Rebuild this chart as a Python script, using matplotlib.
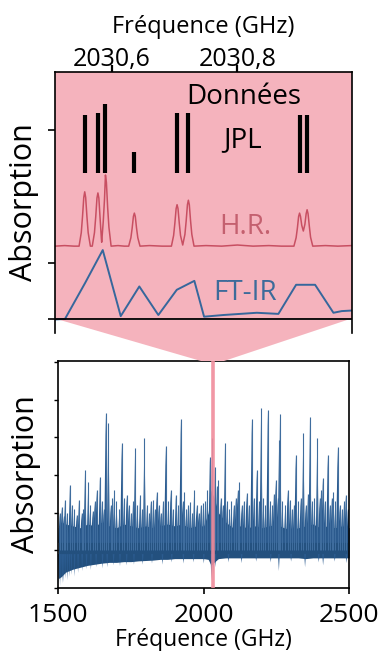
import matplotlib
matplotlib.use('Agg')
import matplotlib.pyplot as plt
from matplotlib.patches import Polygon

plt.rcParams['font.family'] = ['Open Sans', 'DejaVu Sans']

# ---- zoomed panel (top) ----
jpl_freq = [2030.557, 2030.578, 2030.590, 2030.636, 2030.704, 2030.722, 2030.899, 2030.911]
jpl_top = [3.65, 3.68, 3.84, 3.00, 3.68, 3.68, 3.66, 3.65]
jpl_bottom = 2.62

# high resolution spectrum, read point by point
hr_freq = [2030.5097, 2030.525, 2030.540,
           2030.548, 2030.5515, 2030.5535, 2030.5555, 2030.557, 2030.5585, 2030.5605, 2030.5625, 2030.566,
           2030.569, 2030.5725, 2030.5745, 2030.5765, 2030.578, 2030.5795, 2030.5815, 2030.5835,
           2030.584, 2030.5865, 2030.5885, 2030.590, 2030.5915, 2030.5935, 2030.5955, 2030.599,
           2030.610, 2030.620,
           2030.627, 2030.6305, 2030.6325, 2030.6345, 2030.636, 2030.6375, 2030.6395, 2030.6415, 2030.645,
           2030.660, 2030.680,
           2030.695, 2030.6985, 2030.7005, 2030.7025, 2030.704, 2030.7055, 2030.7075, 2030.7095, 2030.713,
           2030.7165, 2030.7185, 2030.7205, 2030.722, 2030.7235, 2030.7255, 2030.7275, 2030.731,
           2030.750, 2030.775, 2030.800, 2030.825, 2030.850, 2030.870,
           2030.890, 2030.8935, 2030.8955, 2030.8975, 2030.899, 2030.9005, 2030.9025, 2030.905,
           2030.9075, 2030.9095, 2030.911, 2030.9125, 2030.9145, 2030.9165, 2030.920,
           2030.940, 2030.960, 2030.982]
hr_abs = [1.31, 1.32, 1.31,
          1.31, 1.55, 1.84, 2.18, 2.28, 2.18, 1.84, 1.55, 1.31,
          1.31, 1.55, 1.83, 2.17, 2.26, 2.17, 1.80, 1.45,
          1.38, 1.75, 2.15, 2.58, 2.45, 2.00, 1.65, 1.31,
          1.32, 1.31,
          1.31, 1.46, 1.63, 1.84, 1.90, 1.84, 1.63, 1.46, 1.31,
          1.32, 1.31,
          1.31, 1.50, 1.72, 1.98, 2.05, 1.98, 1.72, 1.50, 1.33,
          1.52, 1.76, 2.05, 2.13, 2.05, 1.76, 1.52, 1.31,
          1.32, 1.31, 1.33, 1.31, 1.32, 1.31,
          1.31, 1.46, 1.63, 1.84, 1.90, 1.84, 1.68, 1.58,
          1.70, 1.89, 1.96, 1.89, 1.67, 1.47, 1.31,
          1.32, 1.31, 1.32]

ftir_freq = [2030.5097, 2030.5256, 2030.5575, 2030.5857, 2030.6143, 2030.6439, 2030.6742,
             2030.7035, 2030.7315, 2030.7470, 2030.7777, 2030.8309, 2030.8653, 2030.8935,
             2030.9237, 2030.9529, 2030.9662, 2030.982]
ftir_abs = [0.0, 0.01, 0.65, 1.24, 0.06, 0.59, 0.08, 0.53, 0.69, 0.05, 0.08, 0.12, 0.10,
            0.62, 0.62, 0.12, 0.15, 0.16]

top_ticks = [2030.6, 2030.8]
top_ticklabels = ['2030,6', '2030,8']

# ---- full spectrum (bottom) ----
env_freq = [1500, 1510, 1525, 1550, 1575, 1600, 1625, 1650, 1675, 1700, 1725, 1750, 1775,
            1800, 1825, 1850, 1875, 1900, 1925, 1950, 1975, 2000, 2015, 2025, 2035, 2050,
            2075, 2100, 2125, 2150, 2175, 2200, 2225, 2250, 2275, 2300, 2325, 2350, 2375,
            2400, 2425, 2450, 2475, 2500]
env_low = [0.25, 0.30, 0.42, 0.50, 0.55, 0.60, 0.63, 0.66, 0.68, 0.68, 0.70, 0.70, 0.72,
           0.73, 0.74, 0.76, 0.76, 0.78, 0.78, 0.78, 0.78, 0.78, 0.76, 0.60, 0.68, 0.78,
           0.80, 0.80, 0.80, 0.80, 0.80, 0.80, 0.80, 0.80, 0.80, 0.80, 0.80, 0.78, 0.80,
           0.80, 0.80, 0.80, 0.80, 0.80]
env_up = [1.60, 1.75, 1.70, 1.65, 1.60, 1.70, 1.65, 1.75, 1.65, 1.60, 1.70, 1.65, 1.60,
          1.65, 1.60, 1.65, 1.70, 1.65, 1.70, 1.60, 1.65, 1.65, 2.00, 2.60, 2.40, 2.00,
          1.75, 1.60, 1.65, 1.60, 1.65, 1.60, 1.65, 1.70, 1.60, 1.55, 1.60, 1.65, 1.70,
          1.60, 1.65, 1.60, 1.65, 1.60]

line_freq = [1505, 1512, 1518, 1523, 1530, 1540, 1547, 1555, 1563, 1571, 1580, 1586, 1592,
             1603, 1610, 1618, 1625, 1632, 1643, 1650, 1656, 1663, 1672, 1680, 1686, 1692,
             1700, 1710, 1718, 1726, 1735, 1742, 1750, 1757, 1764, 1772, 1781, 1788, 1796,
             1805, 1812, 1818, 1826, 1832, 1838, 1845, 1852, 1860, 1869, 1878, 1886, 1894,
             1904, 1912, 1921, 1927, 1933, 1940, 1946, 1953, 1960, 1967, 1975, 1982, 1990,
             1998, 2005, 2012, 2021, 2029, 2038, 2045, 2050, 2058, 2065, 2073, 2080, 2088,
             2095, 2103, 2110, 2116, 2122, 2130, 2138, 2147, 2155, 2165, 2172, 2182, 2190,
             2197, 2205, 2212, 2220, 2228, 2235, 2241, 2247, 2254, 2259, 2262, 2270, 2280,
             2288, 2296, 2303, 2310, 2316, 2325, 2333, 2342, 2350, 2358, 2365, 2372, 2380,
             2390, 2398, 2403, 2409, 2416, 2426, 2433, 2440, 2445, 2452, 2460, 2467, 2475,
             2482, 2488, 2495]
line_abs = [2.00, 2.15, 1.90, 2.33, 2.00, 2.73, 2.20, 2.10, 1.95, 2.33, 2.00, 2.10, 3.13,
            2.81, 2.20, 2.05, 2.30, 2.60, 2.94, 2.30, 2.10, 4.64, 4.38, 2.20, 2.40, 2.60,
            2.30, 2.10, 3.85, 2.40, 2.47, 2.20, 2.00, 2.30, 3.71, 2.20, 2.47, 2.10, 3.98,
            2.20, 2.00, 2.30, 2.33, 2.10, 2.55, 2.20, 2.00, 2.30, 3.77, 2.30, 2.60, 2.10,
            2.47, 2.20, 4.48, 2.30, 2.55, 2.10, 2.20, 2.28, 2.00, 2.60, 2.20, 2.00, 2.20,
            2.25, 2.30, 2.60, 3.47, 3.98, 3.21, 2.70, 2.86, 2.40, 2.20, 3.85, 2.30, 2.10,
            2.30, 2.20, 2.40, 2.60, 2.81, 2.20, 2.30, 2.52, 2.20, 4.48, 2.40, 3.13, 2.30,
            4.77, 2.40, 2.20, 4.72, 2.30, 2.20, 2.50, 2.86, 2.40, 3.93, 4.62, 2.30, 2.20,
            2.60, 2.33, 2.10, 2.20, 3.53, 2.30, 2.40, 4.11, 2.20, 2.50, 4.54, 2.30, 2.40,
            3.98, 2.40, 2.60, 2.91, 2.30, 3.53, 2.20, 2.40, 2.55, 2.30, 3.74, 2.20, 2.10,
            2.30, 2.47, 2.10]
line_base = 1.0

dip_freq = [1502, 1506, 1509, 1514, 1519, 1524, 1531, 1538, 1545, 1556, 1568, 1582, 1597,
            1612, 1630, 1652, 1668, 1690, 1712, 1735, 1760, 1790, 1822, 1858, 1890, 1930,
            1965, 2000, 2026, 2032, 2040, 2085, 2130, 2180, 2230, 2258, 2300, 2348, 2395,
            2410, 2450, 2490]
dip_abs = [0.10, 0.05, 0.20, 0.12, 0.15, 0.25, 0.20, 0.30, 0.35, 0.30, 0.40, 0.45, 0.50,
           0.48, 0.55, 0.52, 0.55, 0.60, 0.58, 0.60, 0.62, 0.62, 0.65, 0.62, 0.68, 0.65,
           0.68, 0.65, 0.20, 0.35, 0.55, 0.68, 0.66, 0.70, 0.68, 0.45, 0.70, 0.55, 0.68,
           0.60, 0.70, 0.66]

bottom_ticks = [1500, 2000, 2500]
zoom_freq = 2030.7

pink = '#f5b3bd'
pink_line = '#f08c9b'
blue_dark = '#23507e'
blue = '#2b5b8f'

fig = plt.figure(figsize=(3.82, 6.51), dpi=100)

# top panel
ax1 = fig.add_axes([0.144, 0.4885, 0.7767, 0.4009])
ax1.patch.set_visible(False)
ax1.set_xlim(2030.5097, 2030.982)
ax1.set_ylim(-0.241, 4.42)
ax1.axhspan(0, 4.42, color=pink, lw=0, zorder=0)
ax1.axhline(0, color='black', lw=1.3, zorder=3)
ax1.vlines(jpl_freq, jpl_bottom, jpl_top, color='black', lw=3.0)
ax1.plot(hr_freq, hr_abs, color='#c84f62', lw=1.1)
ax1.plot(ftir_freq, ftir_abs, color='#36679c', lw=1.4)

ax1.text(2030.8107, 3.97, 'Données', fontsize=20, ha='center', va='center')
ax1.text(2030.8075, 3.21, 'JPL', fontsize=20, ha='center', va='center')
ax1.text(2030.8123, 1.65, 'H.R.', fontsize=20, color='#c4606f', ha='center', va='center')
ax1.text(2030.8123, 0.47, 'FT-IR', fontsize=20, color='#3d6b9a', ha='center', va='center')

ax1.spines['bottom'].set_visible(False)
ax1.xaxis.tick_top()
ax1.xaxis.set_label_position('top')
ax1.set_xticks(top_ticks)
ax1.set_xticklabels(top_ticklabels)
ax1.tick_params(axis='x', top=True, bottom=False, direction='out', length=5, width=1.6,
                labelsize=18, pad=-5)
ax1.set_xlabel('Fréquence (GHz)', fontsize=17, labelpad=10)
ax1.set_yticks([0, 1.0, 3.38])
ax1.set_yticklabels([])
ax1.tick_params(axis='y', direction='out', length=5, width=1.2)
ax1.set_ylabel('Absorption', fontsize=22, labelpad=3)
for s in ['left', 'right', 'top']:
    ax1.spines[s].set_linewidth(1.2)

# bottom panel
ax2 = fig.add_axes([0.1526, 0.0968, 0.7618, 0.3487])
ax2.set_xlim(1500, 2500)
ax2.set_ylim(0, 6.03)
ax2.fill_between(env_freq, env_low, env_up, color=blue_dark, lw=0, zorder=2)
for f, a in zip(line_freq, line_abs):
    ax2.fill([f - 5.5, f, f + 5.5], [line_base + 0.2, a, line_base + 0.2],
             color=blue, lw=0, zorder=2)
for f, a in zip(dip_freq, dip_abs):
    ax2.fill([f - 3, f, f + 3], [line_base - 0.1, a, line_base - 0.1],
             color=blue, lw=0, zorder=2)
ax2.vlines(line_freq, line_base, line_abs, color='#3f6d9e', lw=0.8, zorder=2)
ax2.axvline(zoom_freq, color=pink_line, lw=2.6, alpha=0.9, zorder=3)
ax2.set_xticks(bottom_ticks)
ax2.tick_params(axis='x', direction='out', length=4, width=1.2, labelsize=19, pad=7)
ax2.set_yticks(range(7))
ax2.set_yticklabels([])
ax2.tick_params(axis='y', direction='out', length=3, width=1.0)
ax2.set_xlabel('Fréquence (GHz)', fontsize=16.5, labelpad=0)
ax2.set_ylabel('Absorption', fontsize=22, labelpad=6)
for s in ax2.spines.values():
    s.set_linewidth(1.2)

# pink zoom trapezoid between the panels
W, H = 382.0, 651.0
trap = [(60 / W, 1 - 320 / H), (347 / W, 1 - 320 / H),
        (224 / W, 1 - 361 / H), (201 / W, 1 - 361 / H)]
fig.patches.append(Polygon(trap, closed=True, transform=fig.transFigure,
                           facecolor=pink, edgecolor='none', zorder=0))

fig.savefig('out.png', dpi=100)
